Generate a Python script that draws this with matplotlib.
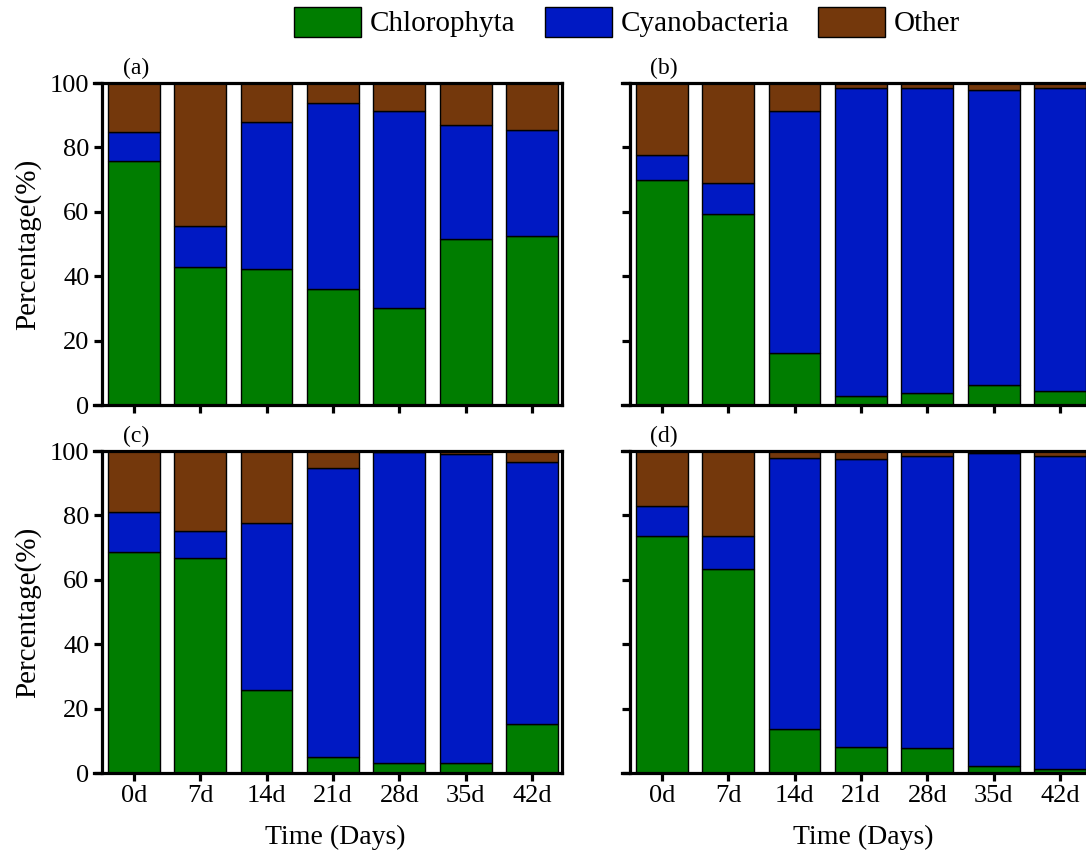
import numpy as np
import matplotlib
matplotlib.use("Agg")
import matplotlib.pyplot as plt
from matplotlib.patches import Patch

plt.rcParams['font.family'] = ['Liberation Serif', 'DejaVu Serif']

days = ['0d', '7d', '14d', '21d', '28d', '35d', '42d']
groups = ['Chlorophyta', 'Cyanobacteria', 'Other']
colors = ['#007D00', '#0019C3', '#74380C']

# percentage of Chlorophyta and Cyanobacteria, Other = rest to 100
chloro_a = [75.9, 43.0, 42.2, 35.9, 30.0, 51.5, 52.6]
cyano_a = [8.9, 12.6, 45.6, 57.8, 61.4, 35.4, 32.9]

chloro_b = [69.9, 59.2, 16.3, 2.9, 3.7, 6.3, 4.4]
cyano_b = [7.8, 9.6, 75.0, 95.7, 94.9, 91.4, 94.0]

chloro_c = [68.5, 66.9, 25.9, 5.0, 3.1, 3.1, 15.2]
cyano_c = [12.5, 8.2, 51.8, 89.7, 96.6, 95.9, 81.3]

chloro_d = [73.5, 63.3, 13.8, 8.2, 7.9, 2.3, 1.2]
cyano_d = [9.3, 10.2, 84.1, 89.4, 90.7, 97.0, 97.1]

panels = [('(a)', chloro_a, cyano_a), ('(b)', chloro_b, cyano_b),
          ('(c)', chloro_c, cyano_c), ('(d)', chloro_d, cyano_d)]

W, H = 1086, 852
fig = plt.figure(figsize=(W / 100, H / 100), dpi=100)

# axes boxes in pixels: left, top, width, height
boxes = [(94, 83), (622, 83), (94, 451), (622, 451)]
aw, ah = 468, 322

x = np.arange(len(days))
for i, (lab, ch, cy) in enumerate(panels):
    l, t = boxes[i]
    ax = fig.add_axes([l / W, (H - t - ah) / H, aw / W, ah / H])
    ch = np.array(ch)
    cy = np.array(cy)
    ot = 100 - ch - cy
    ax.bar(x, ch, 0.78, color=colors[0], edgecolor='black', linewidth=1)
    ax.bar(x, cy, 0.78, bottom=ch, color=colors[1], edgecolor='black', linewidth=1)
    ax.bar(x, ot, 0.78, bottom=ch + cy, color=colors[2], edgecolor='black', linewidth=1)
    ax.set_xlim(-0.6, 6.45)
    ax.set_ylim(0, 100)
    for s in ax.spines.values():
        s.set_linewidth(2.3)
    ax.spines['left'].set_position(('data', -0.48))
    ax.set_yticks(range(0, 101, 20))
    ax.set_xticks(x)
    ax.tick_params(direction='out', length=6, width=2.3, labelsize=19, pad=3)
    if i in (1, 3):
        ax.set_yticklabels([])
    else:
        ax.set_ylabel('Percentage(%)', fontsize=21, labelpad=6)
    if i < 2:
        ax.set_xticklabels([])
    else:
        ax.set_xticklabels(days)
        ax.set_xlabel('Time (Days)', fontsize=20, labelpad=0)
        ax.xaxis.set_label_coords(0.515, -0.16)
    ax.text(0.09, 1.045, lab, transform=ax.transAxes, fontsize=17,
            ha='center', va='center')

handles = [Patch(facecolor=c, edgecolor='black', linewidth=1) for c in colors]
fig.legend(handles, groups, loc='center', bbox_to_anchor=(627 / W, 1 - 22 / H),
           ncol=3, frameon=False, fontsize=21, handlelength=2.3,
           handleheight=1.2, handletextpad=0.3, columnspacing=1.0)

fig.savefig('out.png', dpi=100)
